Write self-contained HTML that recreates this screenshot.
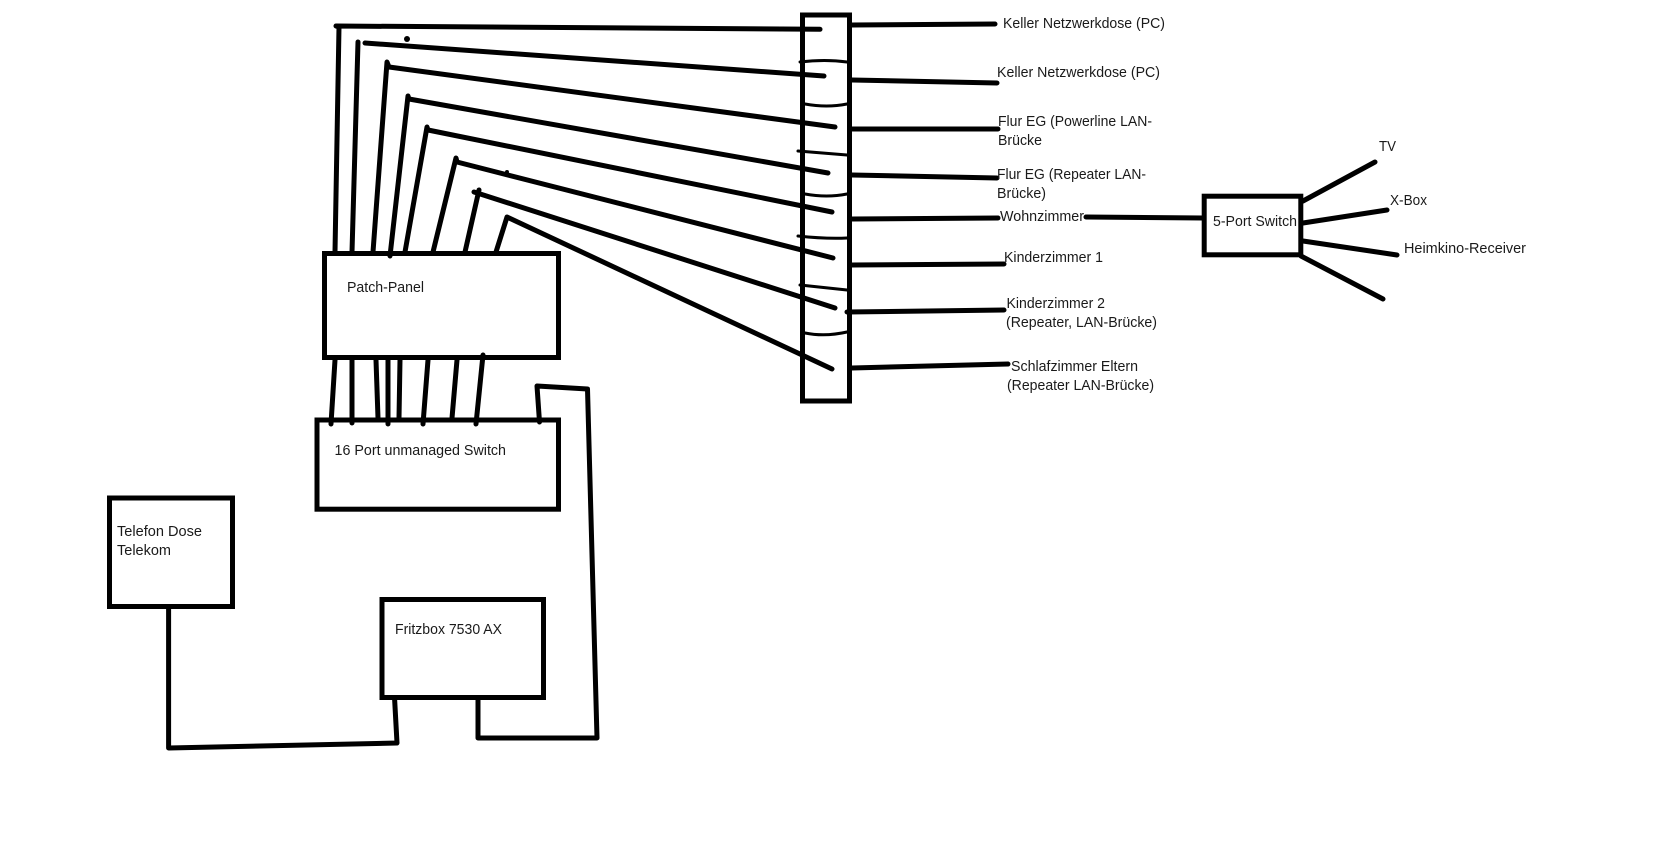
<!DOCTYPE html>
<html><head><meta charset="utf-8"><style>
html,body{margin:0;padding:0;background:#fff;width:1660px;height:852px;overflow:hidden}
svg{display:block}
text{font-family:"Liberation Sans",sans-serif;font-size:14.5px;fill:#1a1a1a}
.l{fill:none;stroke:#000;stroke-width:5;stroke-linecap:round;stroke-linejoin:round}
.t{fill:none;stroke:#000;stroke-width:3;stroke-linecap:round}
.b{fill:none;stroke:#000;stroke-width:5}
</style></head><body>
<svg width="1660" height="852" viewBox="0 0 1660 852" xmlns="http://www.w3.org/2000/svg">
<rect width="1660" height="852" fill="#fff"/>
<!-- boxes -->
<rect class="b" x="324.500" y="253.500" width="234" height="104"/>
<rect class="b" x="802.500" y="15" width="47" height="386"/>
<rect class="b" x="317" y="420" width="241.500" height="89.200"/>
<rect class="b" x="109.500" y="498" width="123" height="108.500"/>
<rect class="b" x="382" y="599.500" width="161.500" height="98"/>
<rect class="b" x="1204.200" y="196.200" width="96.600" height="58.600"/>
<!-- top wires -->
<path class="l" d="M335 252L339 27L336 26L820 29.300"/>
<path class="l" d="M352 252L358 42M365 43L824 76"/>
<path class="l" d="M373 252L387 62L389 67L835 127"/>
<path class="l" d="M390 256L408 96L409 99L828 173"/>
<path class="l" d="M405 252L427 127L428 130L832 212"/>
<path class="l" d="M433 252L456 158L457 162L833 258"/>
<path class="l" d="M465 252L479 190M474 192L835 308"/>
<path class="l" d="M496 252L507 217L832 369"/>
<circle cx="407" cy="39" r="3" fill="#000"/>
<circle cx="507" cy="172" r="2" fill="#000"/>
<!-- lower wires -->
<path class="l" d="M335 360L331 424M352 360L352 423M376 360L378 418M388 360L388 424M400 360L399 418M428 360L423 424M457 360L452 418M483 355L476 424"/>
<!-- bottom wires -->
<path class="l" d="M168.600 609L168.600 748L397 743L394.600 699"/>
<path class="l" d="M478 699L478 738L597 738L587.500 389L537 386L539.500 422"/>
<!-- bar separators -->
<path class="t" d="M800 62Q825 59 847 62M805 104Q827 108 847 104M798 151L847 155M805 194Q827 198 847 194M798 236Q825 239 847 238M800 285L847 290M805 333Q825 337 847 332"/>
<!-- right lines -->
<path class="l" d="M852 25L995 24M852 80L997 83M852 129L998 129M852 175L997 178M852 219L998 218M852 265L1004 264M847 312L1004 310M852 368L1008 364M1086 217L1203 218"/>
<path class="l" d="M1303 201L1375 162M1303 223L1387 210M1303 241L1397 255M1301 256L1383 299"/>
<!-- labels -->
<text x="347" y="292" textLength="77" lengthAdjust="spacingAndGlyphs">Patch-Panel</text>
<text x="334.500" y="455" textLength="171.500" lengthAdjust="spacingAndGlyphs">16 Port unmanaged Switch</text>
<text x="117" y="536" textLength="85" lengthAdjust="spacingAndGlyphs">Telefon Dose</text>
<text x="117" y="555" textLength="54" lengthAdjust="spacingAndGlyphs">Telekom</text>
<text x="395" y="634" textLength="107" lengthAdjust="spacingAndGlyphs">Fritzbox 7530 AX</text>
<text x="1003" y="28" textLength="162" lengthAdjust="spacingAndGlyphs">Keller Netzwerkdose (PC)</text>
<text x="997" y="77" textLength="163" lengthAdjust="spacingAndGlyphs">Keller Netzwerkdose (PC)</text>
<text x="998" y="126" textLength="154" lengthAdjust="spacingAndGlyphs">Flur EG (Powerline LAN-</text>
<text x="998" y="145" textLength="44" lengthAdjust="spacingAndGlyphs">Brücke</text>
<text x="997" y="179" textLength="149" lengthAdjust="spacingAndGlyphs">Flur EG (Repeater LAN-</text>
<text x="997" y="198" textLength="49" lengthAdjust="spacingAndGlyphs">Brücke)</text>
<text x="1000" y="221" textLength="84" lengthAdjust="spacingAndGlyphs">Wohnzimmer</text>
<text x="1004" y="262" textLength="99" lengthAdjust="spacingAndGlyphs">Kinderzimmer 1</text>
<text x="1006.500" y="308" textLength="98.500" lengthAdjust="spacingAndGlyphs">Kinderzimmer 2</text>
<text x="1006" y="327" textLength="151" lengthAdjust="spacingAndGlyphs">(Repeater, LAN-Brücke)</text>
<text x="1011" y="371" textLength="127" lengthAdjust="spacingAndGlyphs">Schlafzimmer Eltern</text>
<text x="1007" y="390" textLength="147" lengthAdjust="spacingAndGlyphs">(Repeater LAN-Brücke)</text>
<text x="1213" y="226" textLength="84" lengthAdjust="spacingAndGlyphs">5-Port Switch</text>
<text x="1379" y="151" textLength="17" lengthAdjust="spacingAndGlyphs">TV</text>
<text x="1390" y="205" textLength="37" lengthAdjust="spacingAndGlyphs">X-Box</text>
<text x="1404" y="253" textLength="122" lengthAdjust="spacingAndGlyphs">Heimkino-Receiver</text>
</svg>
</body></html>
